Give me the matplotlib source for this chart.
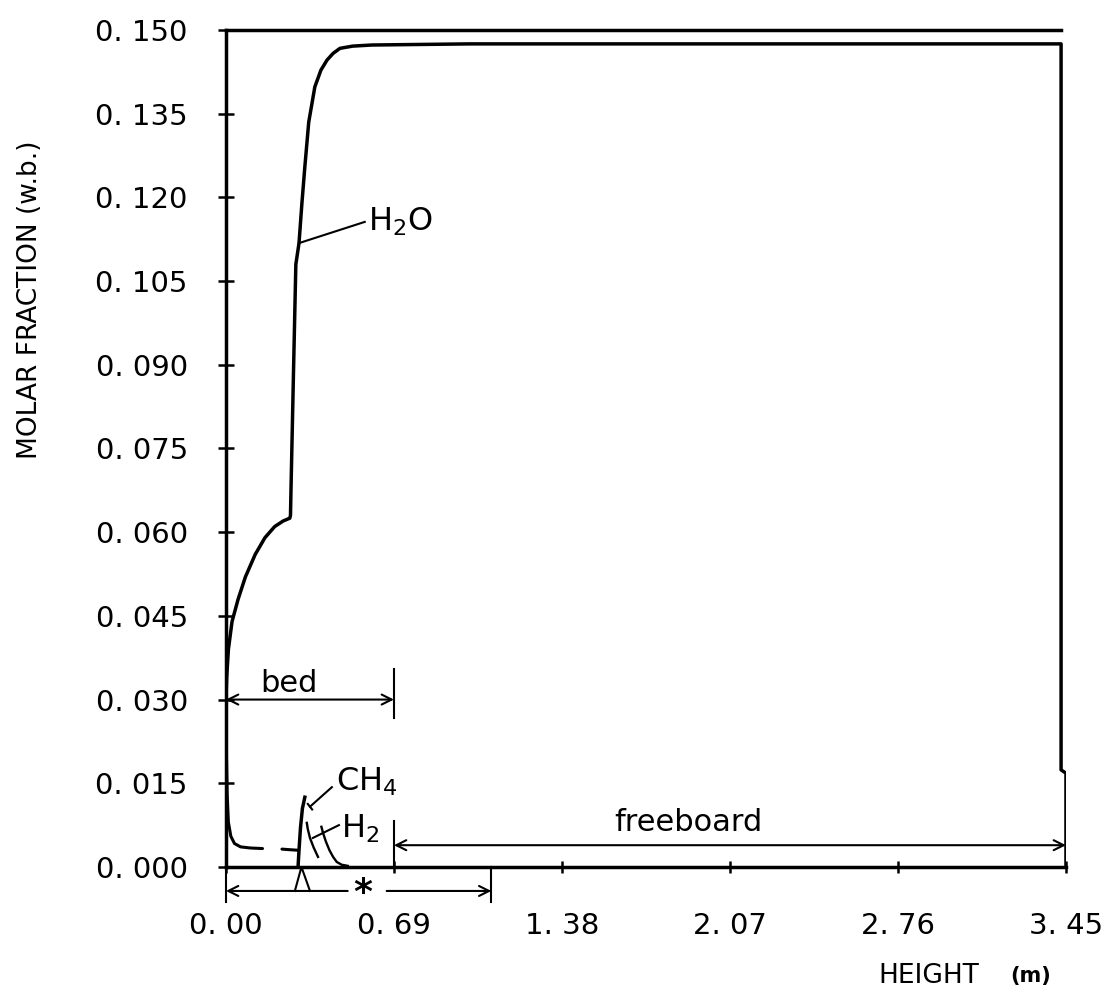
import matplotlib
matplotlib.use("Agg")
import matplotlib.pyplot as plt

plt.rcParams['mathtext.default'] = 'regular'
plt.rcParams['font.family'] = ['DejaVu Sans']

# ---- data ----
h2o_x = [0.000, 0.003, 0.010, 0.025, 0.050, 0.080, 0.120, 0.160, 0.200, 0.235,
         0.262, 0.265, 0.267, 0.278, 0.287, 0.300, 0.312, 0.324, 0.340, 0.365,
         0.390, 0.415, 0.440, 0.468, 0.520, 0.600, 1.000, 3.430, 3.430, 3.450, 3.450]
h2o_y = [0.030, 0.034, 0.039, 0.044, 0.048, 0.052, 0.0560, 0.0590, 0.0610, 0.0620,
         0.0625, 0.0630, 0.0675, 0.090, 0.108, 0.1118, 0.1190, 0.1255, 0.1335, 0.1398,
         0.1428, 0.1446, 0.1458, 0.1467, 0.1471, 0.1473, 0.1475, 0.1475, 0.0174, 0.0168, 0.000]

bedgas_x = [0.000, 0.002, 0.005, 0.010, 0.020, 0.035, 0.060, 0.100, 0.150, 0.230, 0.260, 0.295]
bedgas_y = [0.030, 0.020, 0.013, 0.008, 0.0055, 0.0042, 0.0036, 0.0034, 0.0033, 0.0032, 0.0031, 0.0030]

ch4_x = [0.296, 0.300, 0.306, 0.314, 0.324]
ch4_y = [0.000, 0.003, 0.007, 0.0105, 0.0125]

h2a_x = [0.332, 0.336, 0.345, 0.360, 0.378]
h2a_y = [0.0079, 0.0068, 0.0052, 0.0035, 0.0018]

h2b_x = [0.392, 0.398, 0.410, 0.425, 0.440, 0.455, 0.475, 0.500]
h2b_y = [0.0072, 0.0062, 0.0046, 0.0030, 0.0018, 0.0009, 0.0004, 0.0002]

x_ticks = [0.00, 0.69, 1.38, 2.07, 2.76, 3.45]
x_labels = ['0. 00', '0. 69', '1. 38', '2. 07', '2. 76', '3. 45']
y_ticks = [0.000, 0.015, 0.030, 0.045, 0.060, 0.075, 0.090, 0.105, 0.120, 0.135, 0.150]
y_labels = ['0. 000', '0. 015', '0. 030', '0. 045', '0. 060', '0. 075',
            '0. 090', '0. 105', '0. 120', '0. 135', '0. 150']

bed_end = 0.69
freeboard_end = 3.45
star_end = 1.09

# ---- figure ----
fig = plt.figure(figsize=(11.17, 9.98), dpi=100)
ax = fig.add_axes([0.2023, 0.1313, 0.752, 0.8387])
ax.set_xlim(0, 3.45)
ax.set_ylim(0, 0.150)

lw = 2.5
ax.plot(h2o_x, h2o_y, color='black', lw=lw, solid_joinstyle='round')
# bed-gas curve drawn as a long stroke and a short dash
ax.plot(bedgas_x[:9], bedgas_y[:9], color='black', lw=2.2, solid_capstyle='round')
ax.plot(bedgas_x[9:], bedgas_y[9:], color='black', lw=2.2, solid_capstyle='round')
ax.plot(ch4_x, ch4_y, color='black', lw=lw)
ax.plot(h2a_x, h2a_y, color='black', lw=1.7)
ax.plot(h2b_x, h2b_y, color='black', lw=1.7)

for s in ['left', 'bottom', 'top']:
    ax.spines[s].set_linewidth(2.5)
ax.spines['right'].set_visible(False)
ax.spines['top'].set_bounds(0, 3.43)

ax.set_xticks(x_ticks)
ax.set_xticklabels(x_labels, fontsize=21)
ax.set_yticks(y_ticks)
ax.set_yticklabels(y_labels, fontsize=21)
ax.tick_params(axis='y', direction='inout', length=11, width=1.8, pad=22)
ax.tick_params(axis='x', direction='inout', length=9, width=1.8, pad=28)

# ---- annotations ----
arrow_kw = dict(arrowstyle='<->', color='black', lw=1.5, mutation_scale=18,
                shrinkA=0, shrinkB=0)
# bed
ax.annotate('', xy=(0, 0.030), xytext=(bed_end, 0.030), arrowprops=arrow_kw)
ax.plot([bed_end, bed_end], [0.0267, 0.0354], color='black', lw=1.5)
ax.text(0.26, 0.0302, 'bed', fontsize=22, ha='center', va='bottom')
# freeboard
ax.annotate('', xy=(bed_end, 0.0039), xytext=(freeboard_end, 0.0039), arrowprops=arrow_kw)
ax.plot([bed_end, bed_end], [0.0, 0.0082], color='black', lw=1.5)
ax.text(1.90, 0.0054, 'freeboard', fontsize=22, ha='center', va='bottom')
# star dimension below axis
yb = -0.0043
one_kw = dict(arrowstyle='->', color='black', lw=1.5, mutation_scale=18,
              shrinkA=0, shrinkB=0)
ax.annotate('', xy=(0, yb), xytext=(0.50, yb), arrowprops=one_kw, annotation_clip=False)
ax.annotate('', xy=(star_end, yb), xytext=(0.66, yb), arrowprops=one_kw, annotation_clip=False)
ax.plot([0, 0], [0, -0.0063], color='black', lw=1.5, clip_on=False)
ax.plot([star_end, star_end], [0, -0.0063], color='black', lw=1.5, clip_on=False)
ax.text(0.56, yb - 0.0003, '*', fontsize=26, fontweight='bold', ha='center', va='center')
ax.plot([0.283, 0.31, 0.345], [yb, 0.0, yb], color='black', lw=1.5, clip_on=False)

# species labels
ax.plot([0.300, 0.570], [0.1118, 0.1156], color='black', lw=1.5)
ax.text(0.585, 0.1156, r'H$_2$O', fontsize=23, ha='left', va='center')

ax.plot([0.345, 0.435], [0.0108, 0.0143], color='black', lw=1.5)
ax.plot([0.336, 0.354], [0.0113, 0.0103], color='black', lw=1.5)
ax.text(0.452, 0.0152, r'CH$_4$', fontsize=23, ha='left', va='center')

ax.plot([0.357, 0.464], [0.0052, 0.0075], color='black', lw=1.5)
ax.text(0.472, 0.0068, r'H$_2$', fontsize=23, ha='left', va='center')

# axis titles
fig.text(0.027, 0.70, 'MOLAR FRACTION (w.b.)', rotation=90, fontsize=19,
         ha='center', va='center')
fig.text(0.786, 0.022, 'HEIGHT', fontsize=19, ha='left', va='center')
fig.text(0.904, 0.022, '(m)', fontsize=15, fontweight='bold', ha='left', va='center')

fig.savefig('out.png', dpi=100)
